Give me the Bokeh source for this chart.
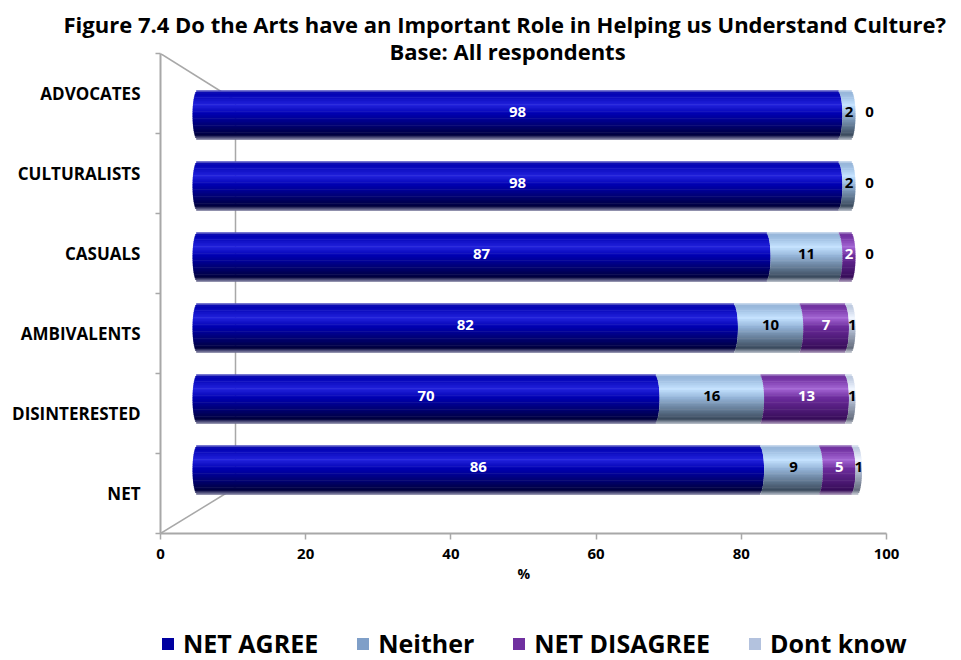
import numpy as np
from bokeh.plotting import figure
from bokeh.layouts import column
from bokeh.models import (Range1d, LinearAxis, FixedTicker, ColumnDataSource,
                          Legend, LegendItem, Title)
from bokeh.embed import file_html
from bokeh.resources import INLINE
from bokeh.core.properties import value

# ---------------- data ----------------
categories = ["NET", "DISINTERESTED", "AMBIVALENTS", "CASUALS", "CULTURALISTS", "ADVOCATES"]
series_names = ["NET AGREE", "Neither", "NET DISAGREE", "Dont know"]
net_agree = [86, 70, 82, 87, 98, 98]
neither = [9, 16, 10, 11, 2, 2]
net_disagree = [5, 13, 7, 2, 0, 0]
dont_know = [1, 1, 1, 0, 0, 0]
x_ticks = [0, 20, 40, 60, 80, 100]
title_1 = "Figure 7.4  Do the Arts have an Important Role in Helping us Understand Culture?"
title_2 = "Base: All respondents"
x_label = "%"

# ---------------- style ----------------
FONT = value("Open Sans")
legend_colors = ["#0000A0", "#7F9FC8", "#7030A0", "#B3C2DE"]
label_colors = ["white", "black", "white", "black"]
# per series: top edge, base, highlight, shadow, bottom edge
shades = [
    ["#6a6ac8", "#0000b0", "#2222dc", "#00003c", "#8a8aa8"],
    ["#c0d4ea", "#94b4d8", "#c4e2ff", "#3a4a5c", "#b0b8c4"],
    ["#a080c4", "#6c2c9c", "#a466d4", "#360c58", "#a898b8"],
    ["#dce4f2", "#bcc8de", "#f0f6ff", "#646c7c", "#c8ccd6"],
]
keys_t = [0.0, 0.06, 0.30, 0.48, 0.92, 1.0]


def hex2rgb(h):
    h = h.lstrip("#")
    return np.array([int(h[i:i + 2], 16) for i in (0, 2, 4)], dtype=float)


def rgb2hex(c):
    c = np.clip(np.round(c), 0, 255).astype(int)
    return "#%02x%02x%02x" % tuple(c)


def shade_at(s, t):
    top, base, hi, sh, bot = [hex2rgb(c) for c in shades[s]]
    cols = [top, base, hi, base, sh, bot]
    for i in range(len(keys_t) - 1):
        if keys_t[i] <= t <= keys_t[i + 1]:
            f = (t - keys_t[i]) / (keys_t[i + 1] - keys_t[i])
            return rgb2hex(cols[i] * (1 - f) + cols[i + 1] * f)
    return rgb2hex(cols[-1])


W = 961
MAIN_H, LEG_H = 616, 44
FL, AX_R, FT, FB = 160, 886, 53, 533        # frame left, axis end, frame top/bottom
ax_w = AX_R - FL                            # px spanned by 0..100 on the front axis
frame_w, frame_h = W - FL, FB - FT
x_hi = 100.0 * frame_w / ax_w
bar_px0, bar_px100 = 197, 850               # where 0 and 100 of the bar plane fall
bar_unit = (bar_px100 - bar_px0) / 100.0
bar_lo = -(bar_px0 - FL) / bar_unit
bar_hi = bar_lo + frame_w / bar_unit
row_px = 71.0
first_center_px = 469.5
y_lo = -(FB - first_center_px) / row_px
y_hi = y_lo + frame_h / row_px
bar_h = 49.0 / row_px
bulge = 5.0 / bar_unit
n_strips = 28

p = figure(width=W, height=MAIN_H, x_range=Range1d(0, x_hi), y_range=Range1d(y_lo, y_hi),
           output_backend="svg", toolbar_location=None, y_axis_location=None,
           min_border_left=FL, min_border_right=0, min_border_top=FT,
           min_border_bottom=MAIN_H - FB, outline_line_color=None,
           background_fill_color="white", border_fill_color="white")
p.extra_x_ranges = {"bar": Range1d(bar_lo, bar_hi)}
p.extra_y_ranges = {"front": Range1d(0, len(categories))}
p.xgrid.visible = False
p.ygrid.visible = False

# ---------------- 3D wall edges ----------------
depth_x = 75.0 / (ax_w / 100.0)
front_unit = frame_h / len(categories)
top_drop = 47.0 / front_unit
bot_rise = 46.0 / front_unit
ncat = len(categories)
p.segment(x0=[0, 0, depth_x], y0=[ncat, 0, bot_rise],
          x1=[depth_x, depth_x, depth_x], y1=[ncat - top_drop, bot_rise, ncat - top_drop],
          y_range_name="front", line_color="#a8a8a8", line_width=1.5)

# ---------------- cylinder bars ----------------
series = [net_agree, neither, net_disagree, dont_know]
ypos = np.arange(len(categories), dtype=float)
cum = np.zeros(len(categories))
bounds = []
for vals in series:
    v = np.array(vals, dtype=float)
    bounds.append((cum.copy(), cum + v))
    cum = cum + v

for si, (lo, hi) in enumerate(bounds):
    for k in range(n_strips):
        t = (k + 0.5) / n_strips
        u = 2 * t - 1
        s = np.sqrt(max(0.0, 1 - u * u))
        left = lo - bulge * s if si == 0 else lo + bulge * s
        right = hi + bulge * s
        yc = ypos + bar_h * (0.5 - t)
        src = ColumnDataSource(dict(y=yc, left=left, right=right))
        p.hbar(y="y", left="left", right="right", height=bar_h / n_strips * 1.3,
               source=src, x_range_name="bar", fill_color=shade_at(si, t),
               line_color=None)

# ---------------- data labels ----------------
for si, (lo, hi) in enumerate(bounds):
    vals = np.array(series[si])
    xs, ys, txt, offs = [], [], [], []
    for i in range(len(categories)):
        if vals[i] == 0 and si + 1 < len(series) and series[si + 1][i] == 0:
            continue  # coincides with the next zero label
        xs.append((lo[i] + hi[i]) / 2.0)
        ys.append(ypos[i])
        txt.append(str(vals[i]))
        off = 0 if si == 0 else 5
        if vals[i] == 0:
            off += 14
        offs.append(off)
    src = ColumnDataSource(dict(x=xs, y=ys, text=txt, xo=offs))
    p.text(x="x", y="y", text="text", source=src, x_range_name="bar",
           x_offset="xo", y_offset=-3, text_align="center", text_baseline="middle",
           text_font=FONT, text_font_style="bold", text_font_size="15px",
           text_color=label_colors[si])

# ---------------- axes ----------------
xa = p.xaxis[0]
xa.ticker = FixedTicker(ticks=x_ticks)
xa.bounds = (x_ticks[0], x_ticks[-1])
xa.axis_line_color = "#a8a8a8"
xa.axis_line_width = 2
xa.major_tick_line_color = "#a8a8a8"
xa.major_tick_line_width = 1.5
xa.major_tick_out = 6
xa.major_tick_in = 0
xa.minor_tick_out = 0
xa.major_label_standoff = 9
xa.major_label_text_font = "Open Sans"
xa.major_label_text_font_style = "bold"
xa.major_label_text_font_size = "15px"
xa.major_label_text_color = "black"

centers = [i + 0.5 for i in range(ncat)]
ya = LinearAxis(y_range_name="front",
                ticker=FixedTicker(ticks=centers, minor_ticks=list(range(ncat + 1))),
                major_label_overrides={c: categories[i] for i, c in enumerate(centers)})
ya.axis_line_color = "#a8a8a8"
ya.axis_line_width = 2
ya.major_tick_out = 0
ya.major_tick_in = 0
ya.minor_tick_out = 5
ya.minor_tick_in = 0
ya.minor_tick_line_color = "#a8a8a8"
ya.minor_tick_line_width = 1.5
ya.major_label_standoff = 15
ya.major_label_text_font = "Open Sans"
ya.major_label_text_font_style = "bold"
ya.major_label_text_font_size = "17px"
ya.major_label_text_color = "black"
p.add_layout(ya, "left")

# x axis caption, centred under the 0..100 span of the axis
p.add_layout(Title(text=x_label, align="left", offset=ax_w / 2 - 6, standoff=0,
                   text_font="Open Sans", text_font_style="bold",
                   text_font_size="14px", text_color="black"), "below")

# ---------------- title (nearest the frame first) ----------------
p.add_layout(Title(text=title_2, align="left", offset=229, standoff=-24,
                   text_font="Open Sans", text_font_style="bold",
                   text_font_size="22px", text_color="black"), "above")
p.add_layout(Title(text=title_1, align="left", offset=-97, standoff=13,
                   text_font="Open Sans", text_font_style="bold",
                   text_font_size="22px", text_color="black"), "above")

# ---------------- legend figure ----------------
# proxy renderers sit far outside this strip's ranges: only their legend swatches show
lf = figure(width=W, height=LEG_H, x_range=Range1d(-1000, -999),
            y_range=Range1d(-1000, -999),
            output_backend="svg", toolbar_location=None, x_axis_location=None,
            y_axis_location=None, min_border=0, outline_line_color=None,
            background_fill_color="white", border_fill_color="white")
lf.xgrid.visible = False
lf.ygrid.visible = False
legend_items = []
for si, (lo, hi) in enumerate(bounds):
    proxy = lf.hbar(y=ypos, left=lo, right=hi, height=0.5,
                    fill_color=legend_colors[si], line_color=None)
    legend_items.append(LegendItem(label=series_names[si], renderers=[proxy]))
legend = Legend(items=legend_items, orientation="horizontal", location=(0, 0),
                glyph_width=15, glyph_height=15, label_standoff=8, spacing=37,
                padding=0, margin=0, border_line_color=None,
                background_fill_alpha=0, label_text_font="Open Sans",
                label_text_font_style="bold", label_text_font_size="25px",
                label_text_color="black")
lf.add_layout(legend, "center")

open("out.html", "w").write(file_html(column(p, lf, spacing=0), INLINE))
